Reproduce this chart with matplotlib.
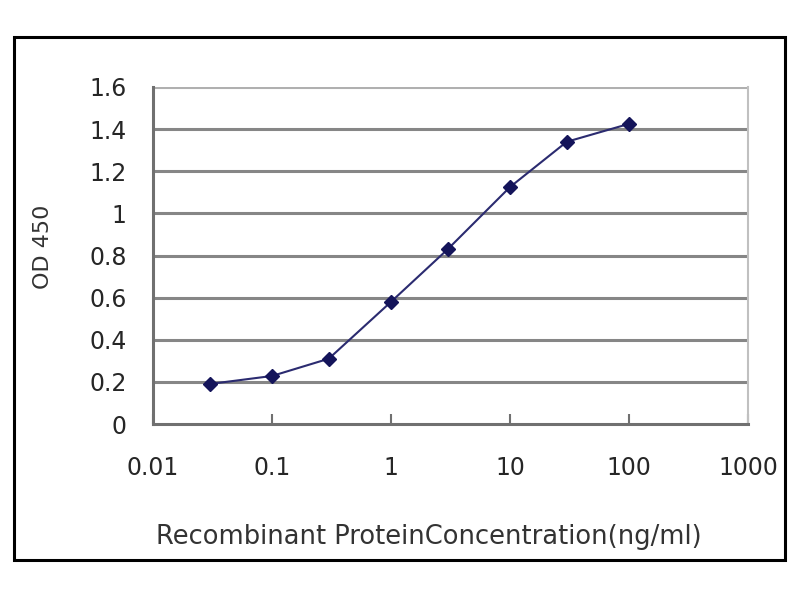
import matplotlib
matplotlib.use("Agg")
import matplotlib.pyplot as plt
from matplotlib.patches import Rectangle

conc = [0.03, 0.1, 0.3, 1, 3, 10, 30, 100]
od450 = [0.19, 0.228, 0.31, 0.58, 0.83, 1.125, 1.34, 1.425]
xticks = [0.01, 0.1, 1, 10, 100, 1000]
xtick_labels = ["0.01", "0.1", "1", "10", "100", "1000"]
yticks = [0, 0.2, 0.4, 0.6, 0.8, 1.0, 1.2, 1.4, 1.6]
ytick_labels = ["0", "0.2", "0.4", "0.6", "0.8", "1", "1.2", "1.4", "1.6"]

plt.rcParams['font.family'] = ['DejaVu Sans']

fig = plt.figure(figsize=(8, 6), dpi=100)
fig.patch.set_facecolor("white")
fig.patches.append(Rectangle((14/800, 1-560/600), (785-14)/800, (560-37)/600,
                             transform=fig.transFigure, fill=False,
                             edgecolor="black", linewidth=2.2))

ax = fig.add_axes([153/800, 1-424/600, 595/800, 337/600])
ax.set_xscale("log")
ax.set_xlim(0.01, 1000)
ax.set_ylim(0, 1.6)

for y in yticks[1:]:
    ax.axhline(y, color="#868686" if y < 1.6 else "#b0b0b0", linewidth=2.2, zorder=1)

ax.plot(conc, od450, color="#2b2b70", linewidth=1.5, marker="D", markersize=7.5,
        markerfacecolor="#14145a", markeredgecolor="#14145a", zorder=3)

ax.set_xticks(xticks)
ax.set_xticklabels(xtick_labels)
ax.minorticks_off()
ax.set_yticks(yticks)
ax.set_yticklabels(ytick_labels)

ax.tick_params(axis="x", direction="in", length=7, width=1.5, color="#707070",
               pad=23, labelsize=17, labelcolor="#262626")
ax.tick_params(axis="y", length=0, pad=19, labelsize=17, labelcolor="#262626")

for s in ["left", "bottom"]:
    ax.spines[s].set_color("#707070")
    ax.spines[s].set_linewidth(2.2)
ax.spines["right"].set_color("#c0c0c0")
ax.spines["right"].set_linewidth(1.5)
ax.spines["top"].set_visible(False)

ax.set_ylabel("OD 450", fontsize=16, color="#333333", va="center")
ax.yaxis.set_label_coords(-0.185, 0.525)
ax.set_xlabel("Recombinant ProteinConcentration(ng/ml)", fontsize=18.5,
              color="#333333", va="center")
ax.xaxis.set_label_coords(0.463, -0.335)

fig.savefig("out.png", dpi=100)
